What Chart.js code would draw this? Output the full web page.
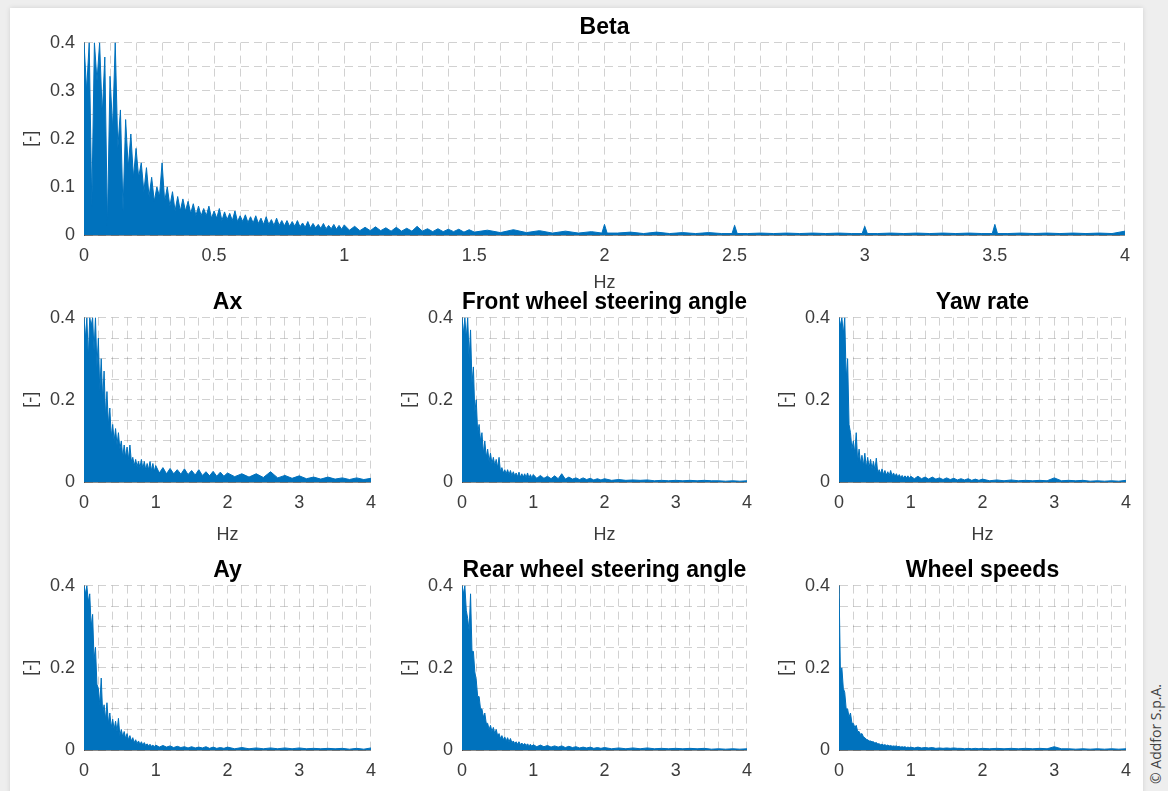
<!DOCTYPE html>
<html><head><meta charset="utf-8">
<script src="https://cdn.jsdelivr.net/npm/chart.js@4.4.1/dist/chart.umd.min.js"></script>
<style>
html,body{margin:0;padding:0;width:1168px;height:791px;overflow:hidden;background:#eeeeee;}
#card{position:absolute;left:10px;top:8px;width:1133px;height:800px;background:#ffffff;box-shadow:0 0 5px rgba(0,0,0,0.12);}
.box{position:absolute;}
#copy{position:absolute;left:1099px;top:725px;width:114px;height:18px;line-height:18px;text-align:center;
  transform:rotate(-90deg);font-family:"Open Sans",sans-serif;font-size:14px;color:#444;white-space:nowrap;}
</style></head><body>
<div id="card"></div>
<div class="box" style="left:10px;top:14px;width:1130px;height:280px"><canvas id="c-beta"></canvas></div>
<div class="box" style="left:10px;top:289px;width:376px;height:257px"><canvas id="c-ax"></canvas></div>
<div class="box" style="left:388px;top:289px;width:374px;height:257px"><canvas id="c-front"></canvas></div>
<div class="box" style="left:765px;top:289px;width:376px;height:257px"><canvas id="c-yaw"></canvas></div>
<div class="box" style="left:10px;top:557px;width:376px;height:257px"><canvas id="c-ay"></canvas></div>
<div class="box" style="left:388px;top:557px;width:374px;height:257px"><canvas id="c-rear"></canvas></div>
<div class="box" style="left:765px;top:557px;width:376px;height:257px"><canvas id="c-wheel"></canvas></div>
<div id="copy">© Addfor S.p.A.</div>
<script>
// ---- data ----
const titles = ["Beta","Ax","Front wheel steering angle","Yaw rate","Ay","Rear wheel steering angle","Wheel speeds"];
const xTitle = "Hz";
const yTitle = "[-]";

const betaHz = [
0,0.01,0.02,0.03,0.04,0.05,0.06,0.07,0.08,0.09,
0.1,0.11,0.12,0.13,0.14,0.15,0.16,0.17,0.18,0.19,
0.2,0.21,0.22,0.23,0.24,0.25,0.26,0.27,0.28,0.29,
0.3,0.31,0.32,0.33,0.34,0.35,0.36,0.37,0.38,0.39,
0.4,0.41,0.42,0.43,0.44,0.45,0.46,0.47,0.48,0.49,
0.5,0.51,0.52,0.53,0.54,0.55,0.56,0.57,0.58,0.59,
0.6,0.61,0.62,0.63,0.64,0.65,0.66,0.67,0.68,0.69,
0.7,0.71,0.72,0.73,0.74,0.75,0.76,0.77,0.78,0.79,
0.8,0.81,0.82,0.83,0.84,0.85,0.86,0.87,0.88,0.89,
0.9,0.91,0.92,0.93,0.94,0.95,0.96,0.97,0.98,0.99,
1,
1.02,1.04,1.06,1.08,1.1,1.12,1.14,1.16,1.18,1.2,1.22,1.24,1.26,1.28,1.3,1.32,1.34,1.36,1.38,1.4,1.42,1.44,1.46,1.48,1.5,
1.55,1.6,1.65,1.7,1.75,1.8,1.85,1.9,1.95,1.99,2,2.01,
2.05,2.1,2.15,2.2,2.25,2.3,2.35,2.4,2.45,2.49,2.5,2.51,
2.55,2.6,2.65,2.7,2.75,2.8,2.85,2.9,2.95,2.99,3,3.01,
3.05,3.1,3.15,3.2,3.25,3.3,3.35,3.4,3.45,3.49,3.5,3.51,
3.55,3.6,3.65,3.7,3.75,3.8,3.85,3.9,3.95,4];

const betaVal = [
0.40,0.30,0.40,0.06,0.40,0.32,0.40,0.25,0.37,0.02,
0.33,0.22,0.40,0.18,0.26,0.05,0.24,0.14,0.21,0.12,
0.18,0.12,0.15,0.09,0.14,0.08,0.12,0.07,0.10,0.08,
0.15,0.07,0.10,0.06,0.09,0.05,0.08,0.05,0.075,0.05,
0.07,0.045,0.065,0.04,0.06,0.04,0.055,0.04,0.06,0.035,
0.05,0.035,0.055,0.03,0.048,0.032,0.045,0.03,0.05,0.028,
0.04,0.028,0.042,0.026,0.038,0.025,0.04,0.024,0.035,0.022,
0.038,0.022,0.032,0.02,0.035,0.02,0.03,0.019,0.03,0.018,
0.028,0.018,0.03,0.017,0.025,0.016,0.028,0.015,0.024,0.015,
0.022,0.014,0.024,0.013,0.02,0.013,0.022,0.012,0.02,0.012,
0.021,
0.010,0.018,0.009,0.016,0.009,0.017,0.009,0.015,0.008,0.016,0.008,0.014,0.008,0.018,0.008,0.013,0.007,0.013,0.007,0.012,0.007,0.012,0.006,0.011,0.006,
0.010,0.005,0.011,0.005,0.009,0.004,0.008,0.004,0.007,0.004,0.022,0.004,
0.004,0.006,0.003,0.006,0.003,0.005,0.003,0.005,0.003,0.003,0.020,0.003,
0.003,0.004,0.003,0.004,0.003,0.004,0.003,0.004,0.003,0.003,0.018,0.003,
0.003,0.004,0.003,0.004,0.003,0.004,0.003,0.004,0.003,0.003,0.022,0.003,
0.003,0.004,0.003,0.004,0.003,0.004,0.003,0.004,0.003,0.008];

const smallHz = [
0,0.02,0.04,0.06,0.08,0.1,0.12,0.14,0.16,0.18,
0.2,0.22,0.24,0.26,0.28,0.3,0.32,0.34,0.36,0.38,
0.4,0.42,0.44,0.46,0.48,0.5,0.52,0.54,0.56,0.58,
0.6,0.62,0.64,0.66,0.68,0.7,0.72,0.74,0.76,0.78,
0.8,0.82,0.84,0.86,0.88,0.9,0.92,0.94,0.96,0.98,
1,
1.05,1.1,1.15,1.2,1.25,1.3,1.35,1.4,1.45,1.5,1.55,1.6,1.65,1.7,1.75,1.8,1.85,1.9,1.95,2,
2.1,2.2,2.3,2.4,2.5,2.6,2.7,2.8,2.9,3,3.1,3.2,3.3,3.4,3.5,3.6,3.7,3.8,3.9,4];

const axVal = [
0.40,0.35,0.40,0.30,0.40,0.38,0.40,0.32,0.40,0.28,
0.35,0.22,0.30,0.20,0.27,0.16,0.22,0.14,0.18,0.11,
0.14,0.10,0.13,0.09,0.12,0.08,0.10,0.06,0.09,0.06,
0.085,0.055,0.09,0.05,0.06,0.04,0.055,0.038,0.05,0.035,
0.055,0.032,0.05,0.03,0.045,0.03,0.05,0.028,0.045,0.026,
0.04,
0.022,0.035,0.02,0.033,0.02,0.03,0.019,0.032,0.018,0.028,0.017,0.03,0.016,0.025,0.015,0.026,0.014,0.024,0.014,0.022,
0.013,0.02,0.012,0.02,0.011,0.025,0.01,0.016,0.009,0.015,0.008,0.012,0.007,0.012,0.007,0.01,0.006,0.01,0.006,0.009];

const frontVal = [
0.40,0.36,0.40,0.35,0.40,0.30,0.37,0.24,0.28,0.17,
0.20,0.12,0.14,0.10,0.12,0.07,0.10,0.06,0.08,0.05,
0.07,0.045,0.06,0.04,0.055,0.035,0.06,0.025,0.035,0.022,
0.03,0.02,0.03,0.018,0.028,0.016,0.025,0.015,0.022,0.013,
0.024,0.012,0.02,0.012,0.02,0.011,0.022,0.01,0.018,0.01,
0.018,
0.009,0.016,0.009,0.014,0.008,0.015,0.008,0.02,0.007,0.012,0.007,0.01,0.006,0.01,0.006,0.009,0.005,0.008,0.005,0.008,
0.004,0.006,0.004,0.005,0.004,0.005,0.003,0.004,0.003,0.004,0.003,0.004,0.003,0.004,0.003,0.003,0.002,0.003,0.002,0.003];

const yawVal = [
0.40,0.38,0.40,0.36,0.40,0.25,0.30,0.14,0.12,0.08,
0.10,0.07,0.12,0.05,0.08,0.045,0.065,0.04,0.07,0.035,
0.06,0.035,0.055,0.032,0.05,0.03,0.058,0.022,0.03,0.02,
0.032,0.018,0.028,0.017,0.025,0.016,0.028,0.015,0.022,0.014,
0.02,0.012,0.018,0.011,0.016,0.01,0.015,0.01,0.015,0.009,
0.014,
0.008,0.014,0.008,0.012,0.007,0.012,0.007,0.01,0.006,0.01,0.006,0.009,0.005,0.008,0.005,0.008,0.004,0.007,0.004,0.007,
0.003,0.005,0.003,0.005,0.003,0.004,0.003,0.004,0.003,0.010,0.003,0.004,0.003,0.004,0.002,0.003,0.002,0.003,0.002,0.004];

const ayVal = [
0.40,0.38,0.40,0.36,0.38,0.30,0.33,0.22,0.25,0.16,
0.15,0.11,0.175,0.09,0.11,0.075,0.115,0.065,0.09,0.055,
0.075,0.05,0.07,0.045,0.077,0.035,0.05,0.032,0.045,0.028,
0.04,0.025,0.035,0.022,0.03,0.018,0.025,0.016,0.022,0.014,
0.02,0.012,0.018,0.011,0.015,0.01,0.014,0.009,0.012,0.008,
0.012,
0.007,0.011,0.007,0.01,0.006,0.009,0.006,0.008,0.005,0.008,0.005,0.007,0.005,0.008,0.004,0.007,0.004,0.006,0.004,0.007,
0.003,0.006,0.003,0.005,0.003,0.005,0.003,0.005,0.003,0.005,0.003,0.004,0.003,0.004,0.003,0.004,0.002,0.004,0.002,0.005];

const rearVal = [
0.40,0.38,0.40,0.34,0.32,0.29,0.38,0.24,0.24,0.19,
0.17,0.13,0.13,0.10,0.10,0.08,0.09,0.065,0.065,0.05,
0.06,0.045,0.055,0.04,0.05,0.035,0.04,0.028,0.035,0.025,
0.032,0.022,0.03,0.02,0.028,0.018,0.022,0.016,0.02,0.014,
0.02,0.013,0.017,0.012,0.016,0.011,0.015,0.01,0.014,0.009,
0.013,
0.008,0.012,0.008,0.011,0.007,0.01,0.007,0.01,0.006,0.009,0.006,0.008,0.005,0.007,0.005,0.007,0.004,0.006,0.004,0.006,
0.003,0.005,0.003,0.005,0.003,0.005,0.003,0.004,0.003,0.004,0.003,0.004,0.003,0.004,0.002,0.003,0.002,0.003,0.002,0.003];

const wheelVal = [
0.40,0.19,0.20,0.15,0.14,0.10,0.10,0.08,0.09,0.065,
0.065,0.055,0.06,0.045,0.045,0.038,0.04,0.032,0.03,0.026,
0.025,0.022,0.022,0.02,0.02,0.017,0.018,0.015,0.015,0.013,
0.014,0.012,0.013,0.011,0.012,0.01,0.011,0.009,0.01,0.009,
0.01,0.008,0.009,0.007,0.008,0.007,0.008,0.006,0.007,0.006,
0.007,
0.005,0.007,0.005,0.006,0.005,0.006,0.004,0.005,0.004,0.005,0.004,0.005,0.004,0.004,0.003,0.004,0.003,0.004,0.003,0.004,
0.003,0.004,0.003,0.004,0.003,0.004,0.003,0.004,0.003,0.008,0.003,0.003,0.002,0.003,0.002,0.003,0.002,0.003,0.002,0.003];

// ---- styling ----
const FONT = '"Liberation Sans", Arial, Helvetica, sans-serif';
const BLUE = '#0072BD';
const TICK = '#3c3c3c';
const GRID = 'rgba(0,0,0,0.18)';
const AXIS = 'rgba(0,0,0,0.45)';

function isMult(v, m){ const r = v / m; return Math.abs(r - Math.round(r)) < 1e-6; }
function fmt(v){ return String(parseFloat(v.toFixed(3))); }

function makeChart(id, title, hz, vals, o){
  if (hz.length !== vals.length) console.error(id + ' length mismatch ' + hz.length + ' vs ' + vals.length);
  const pts = hz.map((x, i) => ({x: x, y: vals[i]}));
  new Chart(document.getElementById(id), {
    type: 'line',
    data: {datasets: [{data: pts, borderColor: BLUE, backgroundColor: BLUE, borderWidth: 1, pointRadius: 0, tension: 0, fill: 'origin'}]},
    options: {
      responsive: true, maintainAspectRatio: false, animation: false, events: [],
      layout: {padding: {left: 0, right: 14, top: 0, bottom: 0}},
      plugins: {
        legend: {display: false}, tooltip: {enabled: false},
        title: {display: true, fullSize: false, text: title, color: '#000', font: {family: FONT, size: 23, weight: 'bold'}, padding: {top: 0, bottom: 1}}
      },
      scales: {
        x: {
          type: 'linear', min: 0, max: 4,
          ticks: {stepSize: o.xStep, autoSkip: false, maxRotation: 0, padding: 10, color: TICK,
                  font: {family: FONT, size: 18}, callback: v => isMult(v, o.xLabel) ? fmt(v) : ''},
          grid: {color: GRID, drawTicks: false, lineWidth: 1},
          border: {display: true, color: AXIS, width: 1, dash: [8, 5]},
          title: {display: true, text: xTitle, color: TICK, font: {family: FONT, size: 18}, padding: {top: 0, bottom: 0}},
          afterFit: s => { s.height = o.xH; }
        },
        y: {
          min: 0, max: 0.4,
          ticks: {stepSize: 0.05, autoSkip: false, padding: 9, color: TICK,
                  font: {family: FONT, size: 18}, callback: v => isMult(v, o.yLabel) ? fmt(v) : ''},
          grid: {color: GRID, drawTicks: false, lineWidth: 1},
          border: {display: true, color: AXIS, width: 1, dash: [8, 5]},
          title: {display: true, text: yTitle, color: TICK, font: {family: FONT, size: 18}, padding: {top: 10, bottom: 0}},
          afterFit: s => { s.width = 74; }
        }
      }
    }
  });
}

const bigOpt = {xStep: 0.1, xLabel: 0.5, yLabel: 0.1, xH: 59};
const smallOpt = {xStep: 0.2, xLabel: 1, yLabel: 0.2, xH: 64};
makeChart('c-beta', titles[0], betaHz, betaVal, bigOpt);
makeChart('c-ax', titles[1], smallHz, axVal, smallOpt);
makeChart('c-front', titles[2], smallHz, frontVal, smallOpt);
makeChart('c-yaw', titles[3], smallHz, yawVal, smallOpt);
makeChart('c-ay', titles[4], smallHz, ayVal, smallOpt);
makeChart('c-rear', titles[5], smallHz, rearVal, smallOpt);
makeChart('c-wheel', titles[6], smallHz, wheelVal, smallOpt);
</script>
</body></html>
